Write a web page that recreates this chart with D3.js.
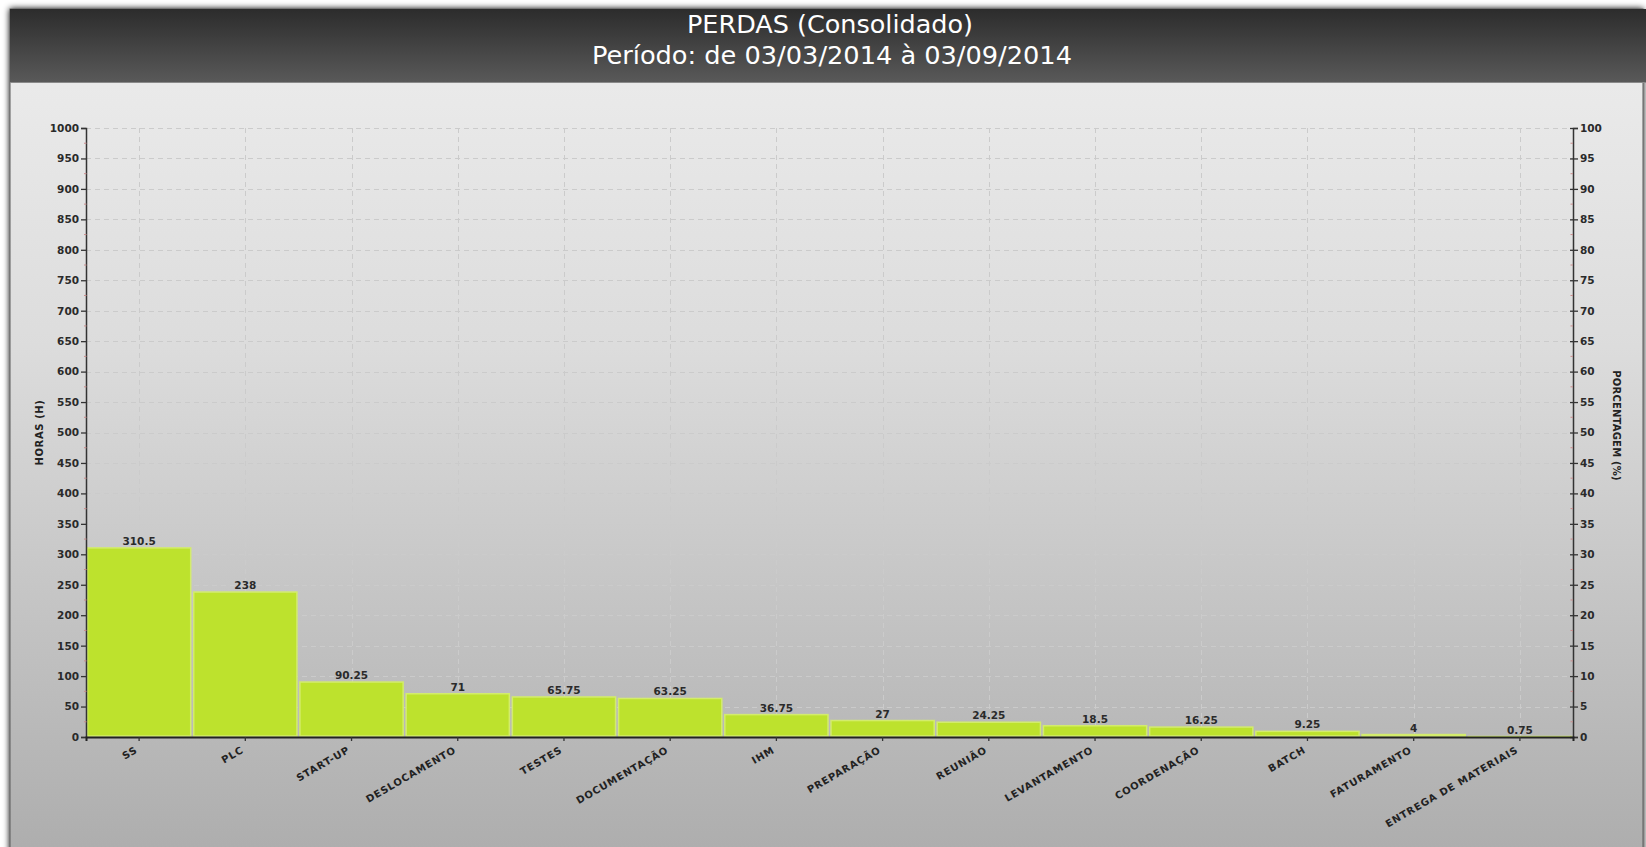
<!DOCTYPE html>
<html><head><meta charset="utf-8">
<script src="https://cdn.jsdelivr.net/npm/d3@7"></script>
<style>
html,body{margin:0;padding:0;background:#fff;overflow:hidden}
svg{display:block}
</style></head>
<body>
<svg id="c" width="1646" height="847"></svg>
<script>
const categories = ["SS","PLC","START-UP","DESLOCAMENTO","TESTES","DOCUMENTAÇÃO","IHM","PREPARAÇÃO","REUNIÃO","LEVANTAMENTO","COORDENAÇÃO","BATCH","FATURAMENTO","ENTREGA DE MATERIAIS"];
const hours = [310.5,238,90.25,71,65.75,63.25,36.75,27,24.25,18.5,16.25,9.25,4,0.75];
const valueLabels = ["310.5","238","90.25","71","65.75","63.25","36.75","27","24.25","18.5","16.25","9.25","4","0.75"];
const leftTicks = d3.range(0,1001,50);
const rightTicks = d3.range(0,101,5);
const titleLines = ["PERDAS (Consolidado)","Período: de 03/03/2014 à 03/09/2014"];
const yLabelLeft = "HORAS (H)";
const yLabelRight = "PORCENTAGEM (%)";

const W=1646,H=847;
const svg=d3.select("#c");
const defs=svg.append("defs");
const pg=defs.append("linearGradient").attr("id","pg").attr("x1",0).attr("y1",0).attr("x2",0).attr("y2",1);
pg.append("stop").attr("offset","0%").attr("stop-color","#eeeeee");
pg.append("stop").attr("offset","40%").attr("stop-color","#dcdcdc");
pg.append("stop").attr("offset","100%").attr("stop-color","#adadad");
const hg=defs.append("linearGradient").attr("id","hg").attr("x1",0).attr("y1",0).attr("x2",0).attr("y2",1);
hg.append("stop").attr("offset","0%").attr("stop-color","#2c2c2c");
hg.append("stop").attr("offset","100%").attr("stop-color","#595959");
const sh=defs.append("filter").attr("id","sh").attr("x","-2%").attr("y","-2%").attr("width","104%").attr("height","104%");
sh.append("feGaussianBlur").attr("in","SourceAlpha").attr("stdDeviation",3).attr("result","b");
sh.append("feOffset").attr("in","b").attr("dx",0).attr("dy",0).attr("result","o");
const fm=sh.append("feMerge");fm.append("feMergeNode").attr("in","o");fm.append("feMergeNode").attr("in","SourceGraphic");

// panel
svg.append("rect").attr("x",10).attr("y",9).attr("width",1633).attr("height",H).attr("fill","url(#pg)").attr("stroke","#5a5a5a").attr("stroke-width",1).attr("filter","url(#sh)");
svg.append("rect").attr("x",10).attr("y",9).attr("width",1636).attr("height",73).attr("fill","url(#hg)");
svg.append("line").attr("x1",10).attr("x2",1646).attr("y1",82.5).attr("y2",82.5).attr("stroke","#8a8a8a");

const title=svg.append("g").attr("font-family","'DejaVu Sans Condensed','Liberation Sans Narrow',sans-serif").attr("fill","#fff").attr("text-anchor","middle");
title.append("text").attr("x",830).attr("y",33).attr("font-size",25.5).attr("textLength",286).attr("lengthAdjust","spacingAndGlyphs").text(titleLines[0]);
title.append("text").attr("x",832).attr("y",64).attr("font-size",25.5).attr("textLength",480).attr("lengthAdjust","spacingAndGlyphs").text(titleLines[1]);

const L=86,R=1573,T=128,B=737;
const x=d3.scaleBand().domain(categories).range([L,R]).padding(0);
const y=d3.scaleLinear().domain([0,1000]).range([B,T]);
const yr=d3.scaleLinear().domain([0,100]).range([B,T]);

const font="'DejaVu Sans',sans-serif";
// grid
const grid=svg.append("g").attr("stroke","#cbcbcb").attr("stroke-width",1).attr("stroke-dasharray","5,4");
grid.selectAll("line.h").data(leftTicks.filter(d=>d>0)).join("line").attr("class","h")
  .attr("x1",L).attr("x2",R).attr("y1",d=>Math.round(y(d))+0.5).attr("y2",d=>Math.round(y(d))+0.5);
grid.selectAll("line.v").data(categories).join("line").attr("class","v")
  .attr("x1",d=>Math.round(x(d)+x.bandwidth()/2)+0.5).attr("x2",d=>Math.round(x(d)+x.bandwidth()/2)+0.5).attr("y1",T).attr("y2",B);

// bars
svg.append("g").selectAll("rect").data(hours).join("rect")
  .attr("x",(d,i)=>x(categories[i])+1.5).attr("width",x.bandwidth()-3)
  .attr("y",d=>y(d)).attr("height",d=>Math.max(0.5,B-y(d)-1))
  .attr("fill","#bde22d").attr("stroke","#d3ec6c").attr("stroke-width",1.5);

// value labels
svg.append("g").attr("font-family",font).attr("font-weight","bold").attr("font-size",10.5).attr("fill","#2a2a2a").attr("text-anchor","middle")
  .selectAll("text").data(hours).join("text")
  .attr("x",(d,i)=>x(categories[i])+x.bandwidth()/2).attr("y",d=>y(d)-3).text((d,i)=>valueLabels[i]);

// left axis
const la=svg.append("g").attr("transform",`translate(${L},0)`)
  .call(d3.axisLeft(y).tickValues(leftTicks).tickSize(5).tickPadding(2).tickFormat(d3.format("d")));
la.select(".domain").attr("stroke","#333").attr("stroke-width",1.5);
la.selectAll(".tick line").attr("stroke","#333").attr("stroke-width",1.3);
la.selectAll("text").attr("font-family",font).attr("font-weight","bold").attr("font-size",10.5).attr("fill","#2a2a2a");
svg.append("g").selectAll("line").data(d3.range(25,1000,50)).join("line")
  .attr("x1",L-2).attr("x2",L+0.5).attr("y1",d=>y(d)).attr("y2",d=>y(d)).attr("stroke","#c98b8b").attr("stroke-width",1);

// right axis
const ra=svg.append("g").attr("transform",`translate(${R},0)`)
  .call(d3.axisRight(yr).tickValues(rightTicks).tickSize(5).tickPadding(2).tickFormat(d3.format("d")));
ra.select(".domain").attr("stroke","#333").attr("stroke-width",1.5);
ra.selectAll(".tick line").attr("stroke","#333").attr("stroke-width",1.3).attr("x1",-3);
ra.selectAll("text").attr("font-family",font).attr("font-weight","bold").attr("font-size",10.5).attr("fill","#2a2a2a");
svg.append("g").selectAll("line").data(d3.range(2.5,100,5)).join("line")
  .attr("x1",R-2.5).attr("x2",R).attr("y1",d=>yr(d)).attr("y2",d=>yr(d)).attr("stroke","#c98b8b").attr("stroke-width",1);

// bottom axis
const ba=svg.append("g").attr("transform",`translate(0,${B})`)
  .call(d3.axisBottom(x).tickSize(4).tickFormat(""));
ba.select(".domain").attr("stroke","#222").attr("stroke-width",2);
ba.selectAll(".tick line").attr("stroke","#333").attr("stroke-width",1.3);
svg.append("g").attr("font-family",font).attr("font-weight","bold").attr("font-size",10).attr("fill","#222").attr("text-anchor","end").attr("letter-spacing",0.8)
  .selectAll("text").data(categories).join("text")
  .attr("transform",d=>`translate(${x(d)+x.bandwidth()/2-1},${B+15}) rotate(-30)`).text(d=>d);

// axis titles
svg.append("text").attr("transform",`translate(43,${(T+B)/2}) rotate(-90)`).attr("text-anchor","middle")
  .attr("font-family",font).attr("font-weight","bold").attr("font-size",10).attr("letter-spacing",0.6).attr("fill","#222").text(yLabelLeft);
svg.append("text").attr("transform",`translate(1613,${(T+B)/2-7}) rotate(90)`).attr("text-anchor","middle")
  .attr("font-family",font).attr("font-weight","bold").attr("font-size",10).attr("letter-spacing",0.2).attr("fill","#222").text(yLabelRight);
</script>
</body></html>
